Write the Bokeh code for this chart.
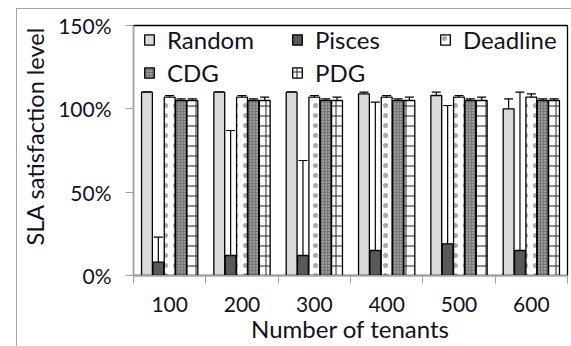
import numpy as np
from bokeh.plotting import figure
from bokeh.models import (ColumnDataSource, Whisker, TeeHead, FixedTicker, Legend,
                          LegendItem, Title)
from bokeh.embed import file_html
from bokeh.resources import INLINE

# ---- data ----
tenants = ["100", "200", "300", "400", "500", "600"]
series = ["Random", "Pisces", "Deadline", "CDG", "PDG"]

random_vals = [110, 110, 110, 109, 108, 100]
random_low = [110, 110, 110, 106, 91, 81]
random_high = [110, 110, 110, 110, 110, 106]

pisces_vals = [8, 12, 12, 15, 19, 15]
pisces_low = [1, 1, 1, 1, 1, 1]
pisces_high = [23, 87, 69, 104, 102, 110]

deadline_vals = [107, 107, 107, 107, 107, 107]
deadline_low = [106, 106, 106, 106, 106, 105]
deadline_high = [108, 108, 108, 108, 108, 109]

cdg_vals = [105, 105, 105, 105, 105, 105]
cdg_low = [100, 100, 100, 101, 101, 101]
cdg_high = [106, 106, 106, 106, 106, 106]

pdg_vals = [105, 105, 105, 105, 105, 105]
pdg_low = [100, 100, 100, 100, 100, 101]
pdg_high = [106, 107, 107, 107, 107, 106]

y_ticks = [0, 50, 100, 150]
y_tick_labels = ["0%", "50%", "100%", "150%"]

FONT = "Lato"
TXT = "#111122"
AX = "#a0a0a0"
BORDER = "#a6a6a6"

p = figure(width=571, height=346, output_backend="svg", toolbar_location=None,
           title=None,
           x_range=(0, len(tenants)), y_range=(0, 150),
           min_border_left=133, min_border_right=4, min_border_top=25,
           min_border_bottom=71)
# thin gray chart-area border (left/top) drawn as the element background
p.border_fill_alpha = 0
p.styles = {
    "background-color": "white",
    "background-image": f"linear-gradient({BORDER},{BORDER}), linear-gradient({BORDER},{BORDER})",
    "background-size": "1px 100%, 100% 1px",
    "background-position": "16px 8px, 16px 8px",
    "background-repeat": "no-repeat",
}
p.grid.visible = False
p.outline_line_color = "black"
p.outline_line_width = 1.3
p.background_fill_color = "white"

styles = [
    dict(fill_color="#d9d9d9"),
    dict(fill_color="#595959"),
    dict(fill_color="white", hatch_pattern="dot", hatch_color="#aaaaaa", hatch_scale=10, hatch_weight=1),
    dict(fill_color="#777777", hatch_pattern="dot", hatch_color="#d0d0d0", hatch_scale=3, hatch_weight=1.2),
    dict(fill_color="white", hatch_pattern="cross", hatch_color="#222222", hatch_scale=10, hatch_weight=1),
]
vals = [random_vals, pisces_vals, deadline_vals, cdg_vals, pdg_vals]
lows = [random_low, pisces_low, deadline_low, cdg_low, pdg_low]
highs = [random_high, pisces_high, deadline_high, cdg_high, pdg_high]

step = 0.157
width = 0.15
renderers = []
for k, name in enumerate(series):
    xs = np.arange(len(tenants)) + 0.5 + (k - 2) * step
    src = ColumnDataSource(dict(x=xs, top=vals[k], lower=lows[k], upper=highs[k]))
    r = p.vbar(x="x", top="top", width=width, bottom=0, source=src,
               line_color="black", line_width=1.3, **styles[k])
    renderers.append(r)
    w = Whisker(base="x", lower="lower", upper="upper", source=src,
                line_color="black", line_width=1.2,
                upper_head=TeeHead(size=9, line_color="black", line_width=1.2),
                lower_head=TeeHead(size=9, line_color="black", line_width=1.2))
    p.add_layout(w)

legend = Legend(items=[LegendItem(label=n, renderers=[r]) for n, r in zip(series, renderers)],
                orientation="horizontal", ncols=3,
                location=(10, 188), border_line_color=None, background_fill_alpha=0,
                padding=0, margin=0, spacing=4,
                glyph_width=12, glyph_height=13, label_standoff=12,
                label_width=120, label_height=29,
                label_text_font=FONT, label_text_font_size="24px", label_text_color=TXT)
p.add_layout(legend)

# y axis
p.yaxis.ticker = FixedTicker(ticks=y_ticks)
p.yaxis.major_label_overrides = {t: l for t, l in zip(y_ticks, y_tick_labels)}
p.yaxis.minor_tick_line_color = None
p.yaxis.major_tick_out = 8
p.yaxis.major_tick_in = 0
p.yaxis.major_label_standoff = 14
p.yaxis.axis_line_color = AX
p.yaxis.major_tick_line_color = AX
p.yaxis.major_label_text_font = FONT
p.yaxis.major_label_text_font_size = "21px"
p.yaxis.major_label_text_color = TXT

ytitle = Title(text="SLA satisfaction level", align="left", offset=30, standoff=14,
               text_font=FONT, text_font_size="23.5px", text_font_style="normal",
               text_color=TXT)
p.add_layout(ytitle, "left")

# x axis
centers = [i + 0.5 for i in range(len(tenants))]
p.xaxis.ticker = FixedTicker(ticks=centers, minor_ticks=list(range(len(tenants) + 1)))
p.xaxis.major_label_overrides = {c: t for c, t in zip(centers, tenants)}
p.xaxis.major_tick_out = 0
p.xaxis.major_tick_in = 0
p.xaxis.minor_tick_out = 8
p.xaxis.minor_tick_in = 0
p.xaxis.minor_tick_line_color = AX
p.xaxis.axis_line_color = AX
p.xaxis.major_label_standoff = 13
p.xaxis.major_label_text_font = FONT
p.xaxis.major_label_text_font_size = "21px"
p.xaxis.major_label_text_color = TXT
p.xaxis.axis_label = "Number of tenants"
p.xaxis.axis_label_text_font = FONT
p.xaxis.axis_label_text_font_size = "24px"
p.xaxis.axis_label_text_font_style = "normal"
p.xaxis.axis_label_text_color = TXT
p.xaxis.axis_label_standoff = -1

open("out.html", "w").write(file_html(p, INLINE))
